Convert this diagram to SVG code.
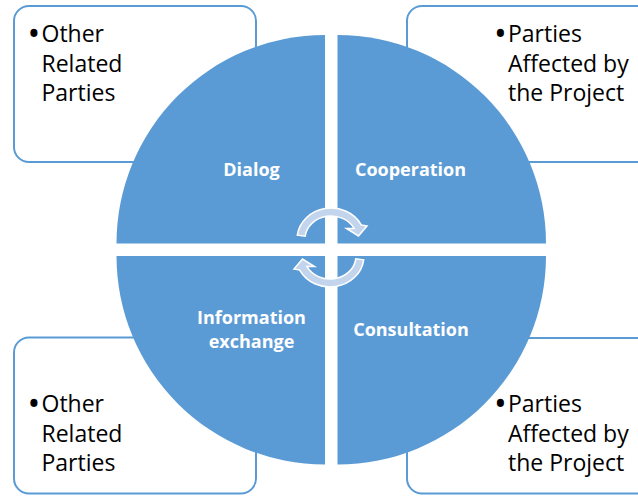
<svg xmlns="http://www.w3.org/2000/svg" width="638" height="497" viewBox="0 0 638 497">
<style>
.box{fill:#fff;stroke:#5b9bd5;stroke-width:2}
.q{fill:#5b9bd5}
.t{font-family:"Open Sans","Liberation Sans",sans-serif;font-size:23px;fill:#000}
.b{font-family:"Open Sans","Liberation Sans",sans-serif;font-size:34px;fill:#000;text-anchor:middle}
.l{font-family:"Open Sans","Liberation Sans",sans-serif;font-size:18px;font-weight:700;fill:#fff;text-anchor:middle}
.arr{fill:#c3d5ed;stroke:#fff;stroke-width:1.5;stroke-linejoin:miter}
</style>
<rect width="638" height="497" fill="#fff"/>
<g id="box-tl">
<rect class="box" x="14" y="6" width="242" height="156" rx="15"/>
<text class="b" x="34" y="46">•</text>
<text class="t" x="41.5" y="42">Other</text>
<text class="t" x="41.5" y="71.5">Related</text>
<text class="t" x="41.5" y="100.5">Parties</text>
</g>
<g id="box-tr">
<rect class="box" x="407" y="6" width="250" height="156" rx="15"/>
<text class="b" x="500.5" y="46">•</text>
<text class="t" x="508" y="42">Parties</text>
<text class="t" x="508" y="71.5">Affected by</text>
<text class="t" x="508" y="100.5">the Project</text>
</g>
<g id="box-bl">
<rect class="box" x="14" y="337.5" width="242" height="156" rx="15"/>
<text class="b" x="34" y="416">•</text>
<text class="t" x="41.5" y="412">Other</text>
<text class="t" x="41.5" y="441.5">Related</text>
<text class="t" x="41.5" y="470.5">Parties</text>
</g>
<g id="box-br">
<rect class="box" x="407" y="338" width="250" height="155.5" rx="15"/>
<text class="b" x="500.5" y="416">•</text>
<text class="t" x="508" y="412">Parties</text>
<text class="t" x="508" y="441.5">Affected by</text>
<text class="t" x="508" y="470.5">the Project</text>
</g>
<g id="q-dialog">
<path class="q" d="M325,243.5 L116.5,243.5 A208.5,208.5 0 0 1 325,35 Z"/>
<text class="l" x="251.5" y="176">Dialog</text>
</g>
<g id="q-cooperation">
<path class="q" d="M337.5,243.5 L337.5,35 A208.5,208.5 0 0 1 546,243.5 Z"/>
<text class="l" x="410.5" y="176">Cooperation</text>
</g>
<g id="q-info">
<path class="q" d="M325,256 L325,464.5 A208.5,208.5 0 0 1 116.5,256 Z"/>
<text class="l" x="251.5" y="324">Information</text>
<text class="l" x="251.5" y="348">exchange</text>
</g>
<g id="q-consultation">
<path class="q" d="M337.5,256 L546,256 A208.5,208.5 0 0 1 337.5,464.5 Z"/>
<text class="l" x="411" y="336">Consultation</text>
</g>
<g id="connectors">
<path class="arr" d="M297.3,235.2 A34,31 0 0 1 361.3,224.9 L367,226 L358.5,236 L346.5,228.5 L354.2,228.6 A26,23 0 0 0 305.2,236.2 Z"/>
<path class="arr" transform="rotate(180 330.5 247.5)" d="M297.3,235.2 A34,31 0 0 1 361.3,224.9 L367,226 L358.5,236 L346.5,228.5 L354.2,228.6 A26,23 0 0 0 305.2,236.2 Z"/>
</g>
</svg>
